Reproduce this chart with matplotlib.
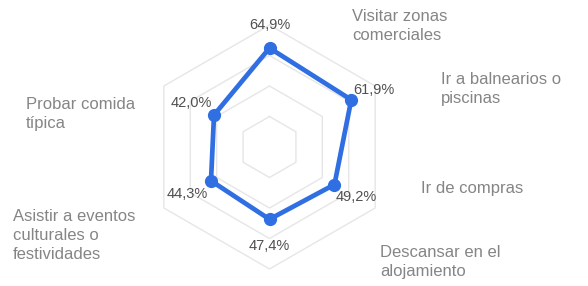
import numpy as np
import matplotlib
matplotlib.use("Agg")
import matplotlib.pyplot as plt

categories = ["Visitar zonas\ncomerciales", "Ir a balnearios o\npiscinas", "Ir de compras",
              "Descansar en el\nalojamiento", "Asistir a eventos\nculturales o\nfestividades",
              "Probar comida\ntípica"]
values = [64.9, 61.9, 49.2, 47.4, 44.3, 42.0]
value_labels = ["64,9%", "61,9%", "49,2%", "47,4%", "44,3%", "42,0%"]
grid_levels = [20, 40, 60, 80]

W, H = 588, 286
fig = plt.figure(figsize=(W / 100, H / 100), dpi=100)
fig.patch.set_facecolor("white")

cx, cy, R = 269.5, 147, 122
ax = fig.add_axes([(cx - R) / W, (H - cy - R) / H, 2 * R / W, 2 * R / H], projection="polar")
ax.set_theta_zero_location("N")
ax.set_theta_direction(-1)
ax.set_ylim(0, 80)
ax.grid(False)
ax.spines["polar"].set_visible(False)
ax.set_xticks([])
ax.set_yticks([])
ax.patch.set_alpha(0)

n = len(values)
angles = np.linspace(0, 2 * np.pi, n, endpoint=False)
ang_c = np.append(angles, angles[0])

for lv in grid_levels:
    ax.plot(ang_c, [lv] * (n + 1), color="#e6e6e6", lw=1.0, zorder=1, clip_on=False)

vals_c = values + [values[0]]
ax.plot(ang_c, vals_c, color="#2f6fe2", lw=3.4, zorder=3, clip_on=False)
ax.plot(angles, values, "o", color="#2f6fe2", ms=8.5, zorder=4, clip_on=False)

offsets = [(0, 23), (23, 10), (22, -12), (0, -27), (-24, -13), (-23, 12)]
for a, v, lab, off in zip(angles, values, value_labels, offsets):
    ax.annotate(lab, (a, v), xytext=(off[0] * 0.72, off[1] * 0.72), textcoords="offset points",
                ha="center", va="center", fontsize=10.5, color="#505050",
                family="Liberation Sans", zorder=5)

cat_pos = [(352, 9), (441, 72), (421, 181), (380, 245), (13, 209), (26, 97)]
for lab, (px, py) in zip(categories, cat_pos):
    fig.text(px / W, 1 - py / H, lab, ha="left", va="top", fontsize=12,
             color="#858585", family="Liberation Sans", linespacing=1.32)

fig.savefig("out.png", dpi=100, facecolor="white")
